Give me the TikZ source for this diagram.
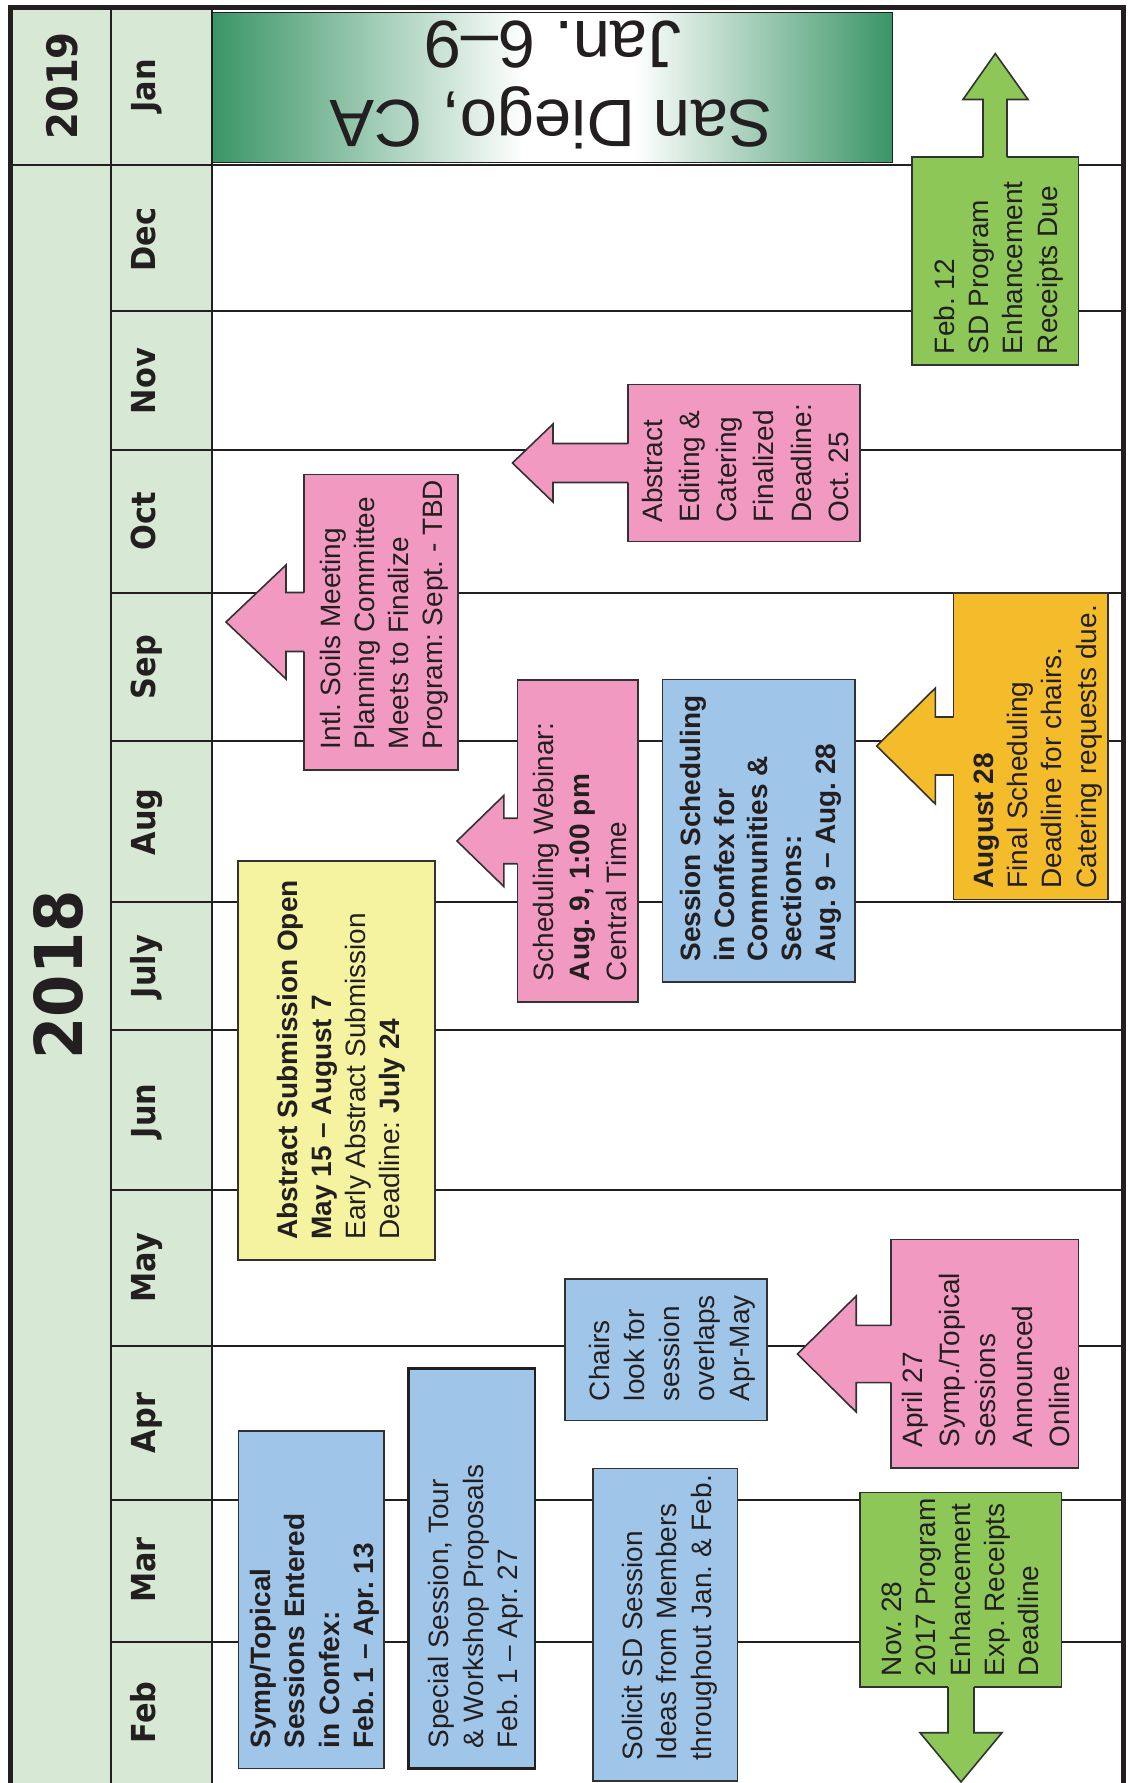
\documentclass[tikz,border=0pt]{standalone}
\usepackage{fontspec}
\setmainfont{Liberation Sans}
\newfontfamily\mfont{DejaVu Sans}[FakeStretch=0.92]
\frenchspacing
\definecolor{colg}{RGB}{215,232,212}
\definecolor{pinkc}{RGB}{242,153,193}
\definecolor{bluec}{RGB}{159,197,232}
\definecolor{yellowc}{RGB}{245,242,160}
\definecolor{greenc}{RGB}{140,199,88}
\definecolor{orangec}{RGB}{244,187,42}
\definecolor{gdark}{RGB}{58,149,102}
\definecolor{linec}{RGB}{35,31,32}
\definecolor{edgec}{RGB}{50,50,50}
\pgfdeclarehorizontalshading{janshade}{100bp}{color(0bp)=(gdark); color(25bp)=(gdark); color(48bp)=(white); color(56bp)=(white); color(75bp)=(gdark); color(100bp)=(gdark)}
\tikzset{
  bx/.style={draw=edgec, line width=1.6pt, inner sep=0pt, outer sep=0pt},
  boxedge/.style={draw=edgec, line width=1.6pt, line join=miter},
  btxt/.style={rotate=90, anchor=north west, inner sep=0pt, outer sep=0pt, align=left, text=linec},
  mlab/.style={rotate=90, anchor=base, inner sep=0pt, text=linec, font=\mfont\bfseries\fontsize{33}{33}\selectfont},
  gridln/.style={draw=linec, line width=2.2pt},
}
% color, xbox, xhead, xtip, ycenter, shaft half, head half
\newcommand\LArrow[7]{%
  \fill[#1] (#2+2,#5-#6) -- (#3,#5-#6) -- (#3,#5-#7) -- (#4,#5) -- (#3,#5+#7) -- (#3,#5+#6) -- (#2+2,#5+#6) -- cycle;
  \draw[boxedge] (#2,#5-#6) -- (#3,#5-#6) -- (#3,#5-#7) -- (#4,#5) -- (#3,#5+#7) -- (#3,#5+#6) -- (#2,#5+#6);
}
\begin{document}
\begin{tikzpicture}[x=1pt,y=-1pt]
\useasboundingbox (0,0) rectangle (1130,1783);
\fill[white] (0,0) rectangle (1130,1783);
\fill[colg] (10.3,7.5) rectangle (212,1795);
% grid
\draw[gridln] (10.3,165) -- (1123.2,165);
\foreach \yy in {311,450,593,741,902,1030,1190,1346,1500,1642}
  \draw[gridln] (111,\yy) -- (1123.2,\yy);
\draw[gridln] (111,7.5) -- (111,1795);
\draw[gridln] (212,7.5) -- (212,1795);
\draw[line width=4.6pt, draw=linec] (10.3,1800) -- (10.3,7.5) -- (1123.2,7.5) -- (1123.2,1800);

% years
\node[rotate=90, anchor=base, inner sep=0pt, text=linec, font=\mfont\bfseries\fontsize{42}{42}\selectfont] (y19) at (77.5,86) {2019};
\node[rotate=90, anchor=base, inner sep=0pt, text=linec, font=\mfont\bfseries\fontsize{66}{66}\selectfont] (y18) at (82.9,975) {2018};

% months
\node[mlab] (mjan) at (155,86) {Jan};
\node[mlab] (mdec) at (155,239.5) {Dec};
\node[mlab] (mnov) at (155,381) {Nov};
\node[mlab] (moct) at (155,521) {Oct};
\node[mlab] (msep) at (155,667) {Sep};
\node[mlab] (maug) at (155,822) {Aug};
\node[mlab] (mjul) at (155,966.5) {July};
\node[mlab] (mjun) at (155,1111) {Jun};
\node[mlab] (mmay) at (155,1267.5) {May};
\node[mlab] (mapr) at (155,1423) {Apr};
\node[mlab] (mmar) at (155,1570) {Mar};
\node[mlab] (mfeb) at (155,1712.5) {Feb};

% January meeting banner
\node[draw=linec, line width=1pt, shade, shading=janshade, minimum width=680, minimum height=150.5, inner sep=0pt] (jan) at (552,87.25) {};
\node[rotate=180, anchor=base, inner sep=0pt, text=linec, font=\fontsize{67}{67}\selectfont] (city) at (551.3,100) {San Diego, CA};
\node[rotate=180, anchor=base, inner sep=0pt, text=linec, font=\fontsize{67}{67}\selectfont] (dates) at (552.5,21.7) {Jan. 6–9};

% B3 Feb. 12 (green, up arrow)
\node[bx, fill=greenc, minimum width=166.8, minimum height=207.7] (feb12) at (995.1,260.85) {};
\fill[greenc] (983,159) -- (983,99.5) -- (963,99.5) -- (995.3,53.6) -- (1028,99.5) -- (1007,99.5) -- (1007,159) -- cycle;
\draw[boxedge] (983,157) -- (983,99.5) -- (963,99.5) -- (995.3,53.6) -- (1028,99.5) -- (1007,99.5) -- (1007,157);
\node[btxt, font=\fontsize{28}{34.3}\selectfont] (feb12t) at (934,354) {Feb. 12\\SD Program\\Enhancement\\Receipts Due};

% B2 Abstract Editing (pink, left arrow)
\node[bx, fill=pinkc, minimum width=232, minimum height=156.9] (edit) at (744,463.05) {};
\LArrow{pinkc}{628}{553}{512.4}{463}{19.5}{39}
\node[btxt, font=\fontsize{28}{37.1}\selectfont] (editt) at (642.3,522.4) {Abstract\\Editing \&\\Catering\\Finalized\\Deadline:\\Oct. 25};

% B1 Intl Soils (pink, left arrow)
\node[bx, fill=pinkc, minimum width=154, minimum height=295.5] (intl) at (381,622.25) {};
\LArrow{pinkc}{304}{286}{226}{622}{29.5}{57}
\node[btxt, font=\fontsize{28}{34}\selectfont] (intlt) at (320.5,749) {Intl. Soils Meeting\\Planning Committee\\Meets to Finalize\\Program: Sept. - TBD};

% B4 August 28 (orange, left arrow)
\node[bx, fill=orangec, minimum width=154.5, minimum height=306.8] (aug28) at (1030.75,746.1) {};
\LArrow{orangec}{953.5}{935.4}{876.7}{746}{29}{58}
\node[btxt, font=\fontsize{28}{34.3}\selectfont] (aug28t) at (973.8,888.4) {{\bfseries August 28}\\Final Scheduling\\Deadline for chairs.\\Catering requests due.};

% B5 Scheduling Webinar (pink, left arrow)
\node[bx, fill=pinkc, minimum width=120.5, minimum height=322] (web) at (577.75,841) {};
\LArrow{pinkc}{517.5}{503.8}{457}{841}{22.75}{45.5}
\node[btxt, font=\fontsize{28}{36.5}\selectfont] (webt) at (533,981) {Scheduling Webinar:\\{\bfseries Aug. 9, 1:00 pm}\\Central Time};

% B6 Session Scheduling (blue)
\node[bx, fill=bluec, minimum width=192.7, minimum height=302.4] (sched) at (758.65,830.8) {};
\node[btxt, font=\bfseries\fontsize{28}{33.8}\selectfont] (schedt) at (680,961.6) {Session Scheduling\\in Confex for\\Communities \&\\Sections:\\Aug. 9 – Aug. 28};

% B7 Abstract Submission (yellow)
\node[bx, fill=yellowc, minimum width=197, minimum height=399.3] (abs) at (336.5,1060.35) {};
\node[btxt, font=\fontsize{28}{34}\selectfont] (abst) at (277.3,1239.6) {{\bfseries Abstract Submission Open}\\{\bfseries May 15 – August 7}\\Early Abstract Submission\\Deadline: {\bfseries July 24}};

% B8 Symp/Topical (blue)
\node[bx, fill=bluec, minimum width=145.2, minimum height=337.7] (symp) at (311.2,1599.65) {};
\node[btxt, font=\bfseries\fontsize{28}{34.3}\selectfont] (sympt) at (250.3,1748.5) {Symp/Topical\\Sessions Entered\\in Confex:\\Feb. 1 – Apr. 13};

% B9 Special Session (blue)
\node[bx, line width=2.6pt, draw=linec, fill=bluec, minimum width=126.8, minimum height=400] (spec) at (471.7,1568.5) {};
\node[btxt, font=\fontsize{28}{34.3}\selectfont] (spect) at (428.6,1748.5) {Special Session, Tour\\\& Workshop Proposals\\Feb. 1 – Apr. 27};

% B10 Chairs (blue)
\node[bx, fill=bluec, minimum width=201.8, minimum height=141.2] (chairs) at (665.9,1349.8) {};
\node[btxt, font=\fontsize{28}{35}\selectfont] (chairst) at (589,1401) {Chairs\\look for\\session\\overlaps\\Apr-May};

% B11 April 27 (pink, left arrow)
\node[bx, fill=pinkc, minimum width=187.5, minimum height=228.1] (apr27) at (984.75,1353.65) {};
\LArrow{pinkc}{891}{856.2}{797.4}{1354}{28.6}{58}
\node[btxt, font=\fontsize{28}{36.9}\selectfont] (apr27t) at (901.8,1447.3) {April 27\\Symp./Topical\\Sessions\\Announced\\Online};

% B12 Solicit (blue)
\node[bx, fill=bluec, minimum width=144.6, minimum height=312.2] (solicit) at (665,1624.6) {};
\node[btxt, font=\fontsize{28}{34.6}\selectfont] (solicitt) at (621.8,1760) {Solicit SD Session\\Ideas from Members\\throughout Jan. \& Feb.};

% B13 Nov. 28 (green, down arrow)
\node[bx, fill=greenc, minimum width=201.8, minimum height=194.7] (nov28) at (960.7,1589.65) {};
\fill[greenc] (948,1685) -- (948,1732.7) -- (920,1732.7) -- (961,1782) -- (1002,1732.7) -- (974,1732.7) -- (974,1685) -- cycle;
\draw[boxedge] (948,1687) -- (948,1732.7) -- (920,1732.7) -- (961,1782) -- (1002,1732.7) -- (974,1732.7) -- (974,1687);
\node[btxt, font=\fontsize{28}{34.25}\selectfont] (nov28t) at (882,1676) {Nov. 28\\2017 Program\\Enhancement\\Exp. Receipts\\Deadline};
\end{tikzpicture}
\end{document}
